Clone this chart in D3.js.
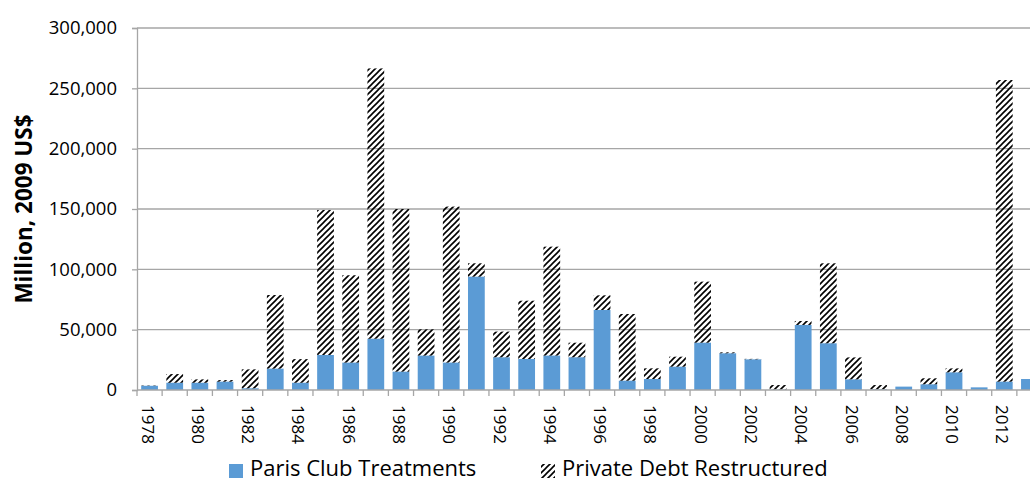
<!DOCTYPE html>
<html>
<head>
<meta charset="utf-8">
<script src="https://cdn.jsdelivr.net/npm/d3@7"></script>
<style>
  body { margin: 0; background: #fff; overflow: hidden; }
  text { font-family: "Open Sans", Lato, sans-serif; fill: #000; }
</style>
</head>
<body>
<div id="chart"></div>
<script>
// years on the category axis
const years = d3.range(1978, 2014).map(String);

// Paris Club treatments (million, 2009 US$)
const parisClub = [3500, 6000, 6000, 6900, 1400, 17700, 6000, 29000, 22700, 42500,
    15200, 28500, 22700, 93900, 27100, 25700, 28500, 27100, 66300, 7700,
    9100, 19300, 39200, 30400, 25400, 300, 53900, 38700, 8800, 500,
    2800, 4700, 14600, 2200, 6900, 9100];

// private debt restructured, stacked on top
const privateDebt = [300, 7200, 2800, 1300, 15700, 61000, 19600, 120200, 72400, 224000,
    134800, 21800, 129300, 11100, 21300, 48300, 90300, 12100, 12150, 55300,
    8850, 8300, 50600, 800, 400, 3800, 3300, 66300, 18200, 3600,
    0, 5000, 3300, 0, 250000, 0];

const yTicks = [0, 50000, 100000, 150000, 200000, 250000, 300000];
const seriesNames = ["Paris Club Treatments", "Private Debt Restructured"];

const width = 1030, height = 482;
const margin = {top: 28, left: 137, bottom: 92};
const plotRight = 1042;   // plot runs a bit past the window, like the original
const gridColor = "#a6a6a6";
const blue = "#5b9bd5";

const svg = d3.select("#chart").append("svg")
    .attr("width", width)
    .attr("height", height)
    .style("display", "block");

// hatch for private debt
svg.append("defs").append("pattern")
    .attr("id", "hatch")
    .attr("patternUnits", "userSpaceOnUse")
    .attr("width", 6)
    .attr("height", 6)
    .append("path")
    .attr("d", "M0,6 L6,0 M-1.5,1.5 L1.5,-1.5 M4.5,7.5 L7.5,4.5")
    .attr("stroke", "#000")
    .attr("stroke-width", 1.6);

const x = d3.scaleBand()
    .domain(years)
    .range([margin.left, plotRight])
    .paddingInner(1 / 3)
    .paddingOuter(1 / 6);

const y = d3.scaleLinear()
    .domain([0, 300000])
    .range([height - margin.bottom, margin.top]);

// gridlines
svg.append("g")
    .selectAll("line")
    .data(yTicks.slice(1))
    .enter().append("line")
    .attr("x1", margin.left)
    .attr("x2", width)
    .attr("y1", d => y(d))
    .attr("y2", d => y(d))
    .attr("stroke", gridColor)
    .attr("stroke-width", 1.3);

// y axis
const yAxis = d3.axisLeft(y)
    .tickValues(yTicks)
    .tickSize(5)
    .tickPadding(15)
    .tickFormat(d3.format(","));

const yAxisGroup = svg.append("g")
    .attr("transform", `translate(${margin.left},0)`)
    .call(yAxis);
yAxisGroup.select(".domain").attr("stroke", gridColor).attr("stroke-width", 1.3);
yAxisGroup.selectAll(".tick line").attr("stroke", gridColor).attr("stroke-width", 1.3);
yAxisGroup.selectAll("text").style("font-size", "18.5px").attr("fill", "#000");

// stacked bars
const stackData = years.map((yr, i) => ({year: yr, paris: parisClub[i], priv: privateDebt[i]}));

svg.append("g")
    .selectAll("rect")
    .data(stackData)
    .enter().append("rect")
    .attr("x", d => x(d.year))
    .attr("width", x.bandwidth())
    .attr("y", d => y(d.paris))
    .attr("height", d => y(0) - y(d.paris))
    .attr("fill", blue);

svg.append("g")
    .selectAll("rect")
    .data(stackData.filter(d => d.priv > 0))
    .enter().append("rect")
    .attr("x", d => x(d.year))
    .attr("width", x.bandwidth())
    .attr("y", d => y(d.paris + d.priv))
    .attr("height", d => y(d.paris) - y(d.paris + d.priv))
    .attr("fill", "url(#hatch)");

// x axis: line, ticks at category boundaries
const xAxisGroup = svg.append("g");
xAxisGroup.append("line")
    .attr("x1", margin.left)
    .attr("x2", width)
    .attr("y1", y(0))
    .attr("y2", y(0))
    .attr("stroke", gridColor)
    .attr("stroke-width", 1.3);

const step = x.step();
xAxisGroup.selectAll(".xtick")
    .data(years)
    .enter().append("line")
    .attr("class", "xtick")
    .attr("x1", d => x(d) - x.paddingOuter() * step)
    .attr("x2", d => x(d) - x.paddingOuter() * step)
    .attr("y1", y(0))
    .attr("y2", y(0) + 6)
    .attr("stroke", gridColor)
    .attr("stroke-width", 1.3);

// every other year, rotated
xAxisGroup.selectAll(".xlabel")
    .data(years.filter((d, i) => i % 2 === 0))
    .enter().append("text")
    .attr("class", "xlabel")
    .attr("transform", d => `translate(${x(d) + x.bandwidth() / 2 - 2},${y(0) + 15}) rotate(90)`)
    .attr("dy", "0.35em")
    .attr("text-anchor", "start")
    .style("font-size", "17px")
    .text(d => d);

// y axis title
svg.append("text")
    .attr("transform", `translate(32,${(y(0) + y(300000)) / 2}) rotate(-90)`)
    .attr("text-anchor", "middle")
    .style("font-size", "22.5px")
    .style("font-weight", "bold")
    .text("Million, 2009 US$");

// legend
const legendItems = [
    {name: seriesNames[0], fill: blue, x: 229},
    {name: seriesNames[1], fill: "url(#hatch)", x: 541}
];

const legend = svg.append("g")
    .attr("class", "legend");

legend.selectAll("rect")
    .data(legendItems)
    .enter().append("rect")
    .attr("x", d => d.x)
    .attr("y", 464)
    .attr("width", 14)
    .attr("height", 14)
    .attr("fill", d => d.fill);

legend.selectAll("text")
    .data(legendItems)
    .enter().append("text")
    .attr("x", d => d.x + 21)
    .attr("y", 476)
    .style("font-size", "22px")
    .text(d => d.name);
</script>
</body>
</html>
